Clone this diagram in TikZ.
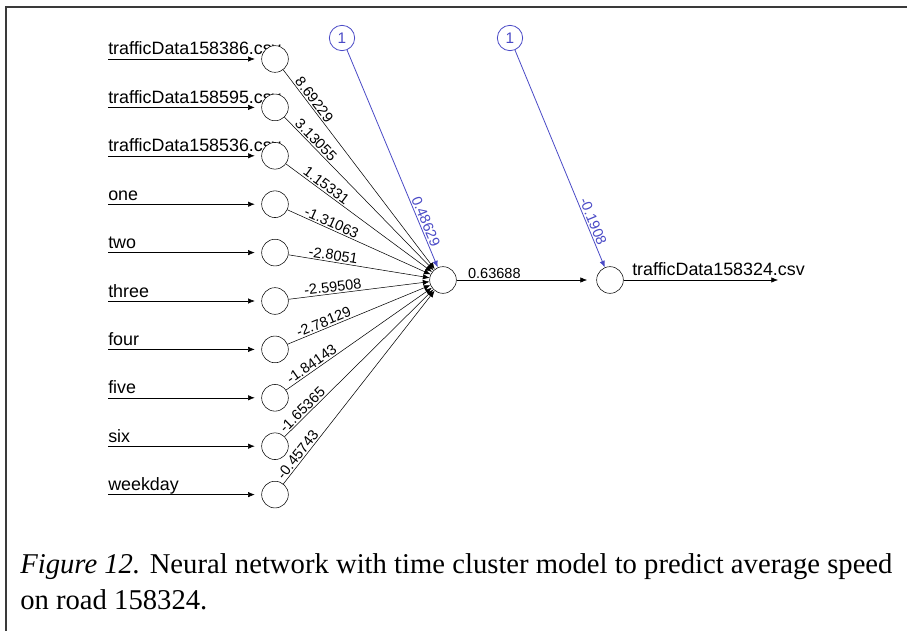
\documentclass[tikz,border=0pt]{standalone}
\usepackage{fontspec}
\setmainfont{Liberation Serif}
\newfontfamily\netsans{Liberation Sans}
\usetikzlibrary{arrows.meta}
\definecolor{NetBlue}{HTML}{4A4AC6}
\definecolor{FrameGray}{HTML}{3A3A3A}

\begin{document}
\begin{tikzpicture}[x=0.75pt,y=-0.75pt,
    neuron/.style={circle,draw,fill=white,minimum size=20pt,inner sep=0pt},
    biasunit/.style={circle,draw=NetBlue,text=NetBlue,minimum size=19pt,inner sep=0pt,
      font=\netsans\fontsize{11.5}{12}\selectfont},
    wire/.style={-{Latex[length=5pt,width=4pt]},black},
    biaswire/.style={-{Latex[length=5pt,width=4pt]},NetBlue,semithick},
    inlabel/.style={anchor=base west,inner sep=0pt,font=\netsans\fontsize{13.4}{15}\selectfont},
    weightlbl/.style={sloped,above,inner sep=1pt,font=\netsans\fontsize{10.9}{12}\selectfont}]
  \useasboundingbox (0,0) rectangle (907,631);
  \draw[FrameGray,line width=1.5pt] (6,631) -- (6,7) -- (907,7);

  % input layer
  \foreach \lbl [count=\i] in {trafficData158386.csv,trafficData158595.csv,trafficData158536.csv,
      one,two,three,four,five,six,weekday} {
    \coordinate (src\i) at (108,{59+48.4*(\i-1)});
    \node[inlabel] (lbl\i) at (108,{55+48.4*(\i-1)}) {\lbl};
    \node[neuron] (in\i) at (275,{59+48.4*(\i-1)}) {};
    \draw[wire,shorten >=5pt] (src\i) -- (in\i);
  }

  % hidden and output units
  \node[neuron] (hid) at (443,280) {};
  \node[neuron] (out) at (610,280) {};
  \node[biasunit,semithick] (b1) at (342,38) {1};
  \node[biasunit,semithick] (b2) at (510,38) {1};

  \foreach \w/\p [count=\i] in {8.69229/0.17,3.13055/0.18,1.15331/0.25,-1.31063/0.29,
      -2.8051/0.31,-2.59508/0.32,-2.78129/0.27,-1.84143/0.2,-1.65365/0.15,-0.45743/0.13}
    \draw[wire] (in\i) -- node[weightlbl,pos=\p] {\w} (hid);

  \draw[biaswire] (b1) -- node[weightlbl,text=NetBlue,pos=0.8] {0.48629} (hid);
  \draw[biaswire] (b2) -- node[weightlbl,text=NetBlue,pos=0.8] {-0.1908} (out);
  \draw[wire,shorten >=7pt] (hid) -- node[weightlbl,pos=0.27] {0.63688} (out);

  % response
  \coordinate (sink) at (778,280);
  \node[inlabel] (resp) at (632,276) {trafficData158324.csv};
  \draw[wire] (out) -- (sink);

  % caption
  \node[anchor=base west,inner sep=0pt,font=\fontsize{21.5}{27}\selectfont] (cap1) at (20,573)
    {\textit{Figure 12.} Neural network with time cluster model to predict average speed};
  \node[anchor=base west,inner sep=0pt,font=\fontsize{21.5}{27}\selectfont] (cap2) at (20,609)
    {on road 158324.};
\end{tikzpicture}
\end{document}
